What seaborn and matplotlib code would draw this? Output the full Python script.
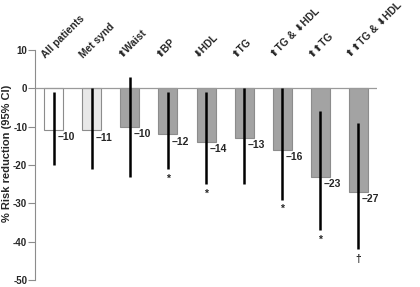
import numpy as np
import pandas as pd
import matplotlib
matplotlib.use("Agg")
import matplotlib.pyplot as plt
import seaborn as sns

categories = ["All patients", "Met synd", "\u2b06Waist", "\u2b06BP", "\u2b07HDL",
              "\u2b06TG", "\u2b06TG & \u2b07HDL", "\u2b06\u2b06TG", "\u2b06\u2b06TG & \u2b07HDL"]
values = [-10.8, -11, -10, -12, -14, -13, -16, -23, -27]
value_labels = ["\u201310", "\u201311", "\u201310", "\u201312", "\u201314",
                "\u201313", "\u201316", "\u201323", "\u201327"]
ci_high = [-1, 0, 3, -1, -1, 0, 0, -6, -9]
ci_low = [-20, -21, -23, -21, -25, -25, -29, -37, -42]
marks = ["", "", "", "*", "*", "", "*", "*", "\u2020"]
colors = ["#ffffff", "#e8e8e8", "#a3a3a3", "#a3a3a3", "#a3a3a3",
          "#a3a3a3", "#a3a3a3", "#a3a3a3", "#a3a3a3"]

sns.set_style("white")
plt.rcParams["font.family"] = ["Liberation Sans", "DejaVu Sans"]
plt.rcParams["font.weight"] = "bold"
plt.rcParams["axes.unicode_minus"] = False

df = pd.DataFrame({"cat": categories, "val": values})

fig = plt.figure(figsize=(4.2, 2.87), dpi=100)
ax = fig.add_axes([0.083, 0.024, 0.815, 0.802])

sns.barplot(data=df, x="cat", y="val", hue="cat", palette=colors, legend=False,
            width=0.5, edgecolor="#8c8c8c", linewidth=0.8, ax=ax)

ax.axhline(0, color="#9a9a9a", lw=0.9, zorder=1)
xs = np.arange(len(categories))
ax.vlines(xs, ci_low, ci_high, color="black", lw=1.8, zorder=5)

for i in xs:
    ax.text(i + 0.1, values[i] - 0.6, value_labels[i], ha="left", va="top",
            fontsize=7.5, fontweight="bold")
    if marks[i]:
        ax.text(i, ci_low[i] - 1.2, marks[i], ha="center", va="top",
                fontsize=7.5, fontweight="bold")
    ax.text(i - 0.18, 7.5, categories[i], rotation=45, rotation_mode="anchor",
            ha="left", va="bottom", fontsize=7.4, fontweight="bold")

ax.set_ylim(-50, 10)
ax.set_xlim(-0.5, 8.5)
ax.set_yticks(np.arange(-50, 11, 10))
ax.set_xticks([])
ax.set_xlabel("")
ax.set_ylabel("% Risk reduction (95% CI)", fontsize=8, fontweight="bold")
ax.yaxis.set_label_coords(-0.066, 0.55)
ax.tick_params(axis="y", which="both", left=True, length=5, width=0.8,
               color="#8c8c8c", labelsize=7, pad=0.5)
for lab in ax.get_yticklabels():
    lab.set_fontweight("bold")
for s in ["top", "right", "bottom"]:
    ax.spines[s].set_visible(False)
ax.spines["left"].set_color("#8c8c8c")
ax.spines["left"].set_linewidth(0.8)

fig.savefig("out.png", dpi=100)
